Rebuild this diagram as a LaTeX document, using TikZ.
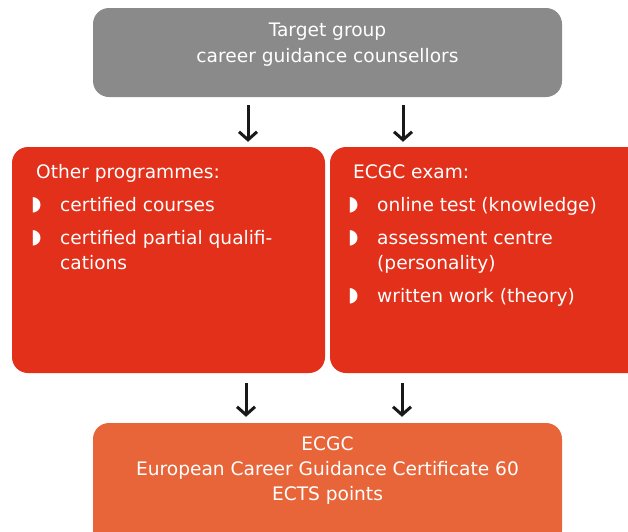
\documentclass[tikz,border=0pt]{standalone}
\usepackage{fontspec}
\setmainfont{DejaVu Sans}
\usetikzlibrary{arrows.meta,positioning}
\definecolor{boxgray}{RGB}{138,138,138}
\definecolor{boxred}{RGB}{226,48,26}
\definecolor{boxorange}{RGB}{232,101,58}
\newcommand{\bul}{\makebox[29pt][l]{\raisebox{1pt}{\fontsize{20}{20}\selectfont\char"25D7}}}
\tikzset{
  box/.style={rectangle,rounded corners=16pt,draw=none,inner sep=0pt},
  txt/.style={text=white,inner sep=0pt,font=\fontsize{18.6}{25}\selectfont},
  arr/.style={-{Straight Barb[length=8pt,width=18pt]},line width=3pt,black!90}
}

\begin{document}
\begin{tikzpicture}[x=1pt,y=-1pt]
  \useasboundingbox (0,0) rectangle (628,531);
  \clip (0,0) rectangle (628,531);
  % boxes
  \node[box,fill=boxgray,minimum width=469pt,minimum height=89pt] (target) at (327.5,52.5) {};
  \node[box,fill=boxred,minimum width=313pt,minimum height=226pt] (other) at (168.5,260) {};
  \node[box,fill=boxred,minimum width=320pt,minimum height=226pt] (exam) at (490,260) {};
  \node[box,fill=boxorange,minimum width=469pt,minimum height=124pt] (ecgc) at (327.5,485) {};
  % texts
  \node[txt,align=center,font=\fontsize{18.6}{26}\selectfont] (targettxt) at (327.5,45) {Target group\\career guidance counsellors};
  \node[txt,anchor=base west] (othertxt) at (31,178) {%
    \begin{tabular}[t]{@{}l@{}l@{}}
      \multicolumn{2}{@{\hspace{5pt}}l@{}}{Other programmes:}\\[8pt]
      \bul & certified courses\\[8pt]
      \bul & certified partial qualifi-\\
           & cations
    \end{tabular}};
  \node[txt,anchor=base west] (examtxt) at (348,178) {%
    \begin{tabular}[t]{@{}l@{}l@{}}
      \multicolumn{2}{@{\hspace{5pt}}l@{}}{ECGC exam:}\\[8pt]
      \bul & online test (knowledge)\\[8pt]
      \bul & assessment centre\\
           & (personality)\\[8pt]
      \bul & written work (theory)
    \end{tabular}};
  \node[txt,align=center] (ecgctxt) at (327.5,471) {ECGC\\European Career Guidance Certificate 60\\ECTS points};
  % arrows
  \draw[arr,shorten <=8pt,shorten >=5pt] ([xshift=-79.5pt]target.south) -- ([xshift=-79.5pt]target.south |- other.north);
  \draw[arr,shorten <=8pt,shorten >=5pt] ([xshift=75.5pt]target.south) -- ([xshift=75.5pt]target.south |- exam.north);
  \draw[arr,shorten <=10pt,shorten >=6pt] ([xshift=77.5pt]other.south) -- ([xshift=77.5pt]other.south |- ecgc.north);
  \draw[arr,shorten <=10pt,shorten >=6pt] ([xshift=-88pt]exam.south) -- ([xshift=-88pt]exam.south |- ecgc.north);
\end{tikzpicture}
\end{document}
